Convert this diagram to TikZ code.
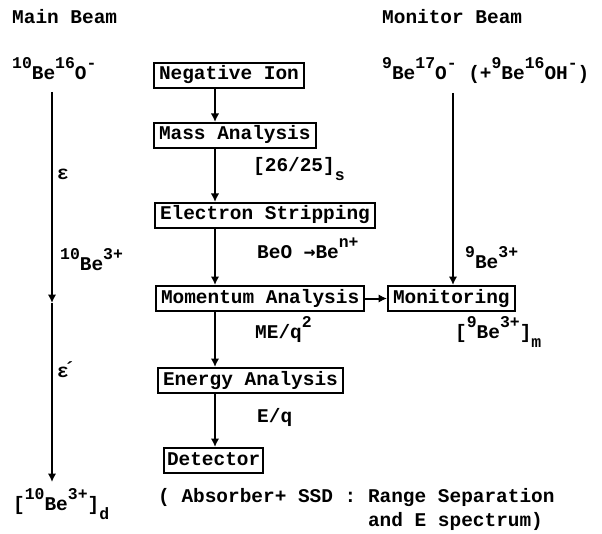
\documentclass[tikz,border=0pt]{standalone}
\usepackage{fontspec}
\setmainfont{Liberation Mono}
\newfontfamily\symf{DejaVu Sans Mono}
\usetikzlibrary{arrows.meta}
\newcommand\sU[1]{\raisebox{11bp}{\fontsize{16.5}{16}\selectfont #1}}
\newcommand\sD[1]{\raisebox{-9bp}{\fontsize{16.5}{16}\selectfont #1}}
\begin{document}
\begin{tikzpicture}[x=1bp,y=-1bp,
  every node/.style={font=\fontsize{19.5}{24}\selectfont\bfseries, inner sep=0pt},
  lbl/.style={anchor=base west},
  stage/.style={draw, line width=2bp, anchor=north west, inner xsep=5bp,
    minimum height=25bp, text height=13bp, text depth=4bp},
  arr/.style={line width=2bp, -{Latex[length=8.5bp,width=8.5bp]}}]
\useasboundingbox (0,0) rectangle (602,534);
% titles
\node[lbl] (tmain) at (12,24) {Main Beam};
\node[lbl] (tmon) at (382,24) {Monitor Beam};
% source ions
\node[lbl] (srcmain) at (12,80) {\sU{10}Be\sU{16}O\sU{-}};
\node[lbl] (srcmon) at (382,80) {\sU{9}Be\sU{17}O\sU{-} (+\sU{9}Be\sU{16}OH\sU{-})};
% stages
\node[stage] (neg) at (153,62) {Negative Ion};
\node[stage] (mass) at (153,122) {Mass Analysis};
\node[stage] (elec) at (154,202) {Electron Stripping};
\node[stage] (mom) at (155,285) {Momentum Analysis};
\node[stage] (mon) at (387,285) {Monitoring};
\node[stage] (ener) at (157,367) {Energy Analysis};
\node[stage, inner xsep=3bp] (det) at (163,447) {Detector};
% labels
\node[lbl] (l2625) at (253,172) {[26/25]\sD{s}};
\node[lbl] (lbeo) at (257,258) {BeO {\symf\bfseries →}Be\sU{n+}};
\node[lbl] (lmeq) at (255,338) {ME/q\sU{2}};
\node[lbl] (leq) at (257,422) {E/q};
\node[lbl] (leps) at (57,180) {ε};
\node[lbl] (l10be) at (60,270) {\sU{10}Be\sU{3+}};
\node[lbl] (leps2) at (57,377) {ε\kern-5bp\raisebox{2bp}{´}};
\node[lbl] (lres) at (13,510) {[\sU{10}Be\sU{3+}]\sD{d}};
\node[lbl] (l9be) at (465,268) {\sU{9}Be\sU{3+}};
\node[lbl] (l9bem) at (455,338) {[\sU{9}Be\sU{3+}]\sD{m}};
\node[lbl, align=left, anchor=north west] (labs) at (158,488)
  {( Absorber+ SSD : Range Separation\\\phantom{( Absorber+ SSD : }and E spectrum)};
% connectors
\coordinate (ax) at (215,0);
\draw[arr] (neg.south -| ax) -- (mass.north -| ax);
\draw[arr] (mass.south -| ax) -- (elec.north -| ax);
\draw[arr] (elec.south -| ax) -- (mom.north -| ax);
\draw[arr] (mom.south -| ax) -- (ener.north -| ax);
\draw[arr] (ener.south -| ax) -- (det.north -| ax);
\draw[arr] (mom.east) -- (mon.west);
\coordinate (mtop) at (52,92);
\coordinate (mmid) at (52,303);
\coordinate (mbot) at (52,482);
\draw[arr] (mtop) -- (mmid);
\draw[arr] (mmid) -- (mbot);
\coordinate (montop) at (453,93);
\draw[arr] (montop) -- (mon.north -| montop);
\end{tikzpicture}
\end{document}
